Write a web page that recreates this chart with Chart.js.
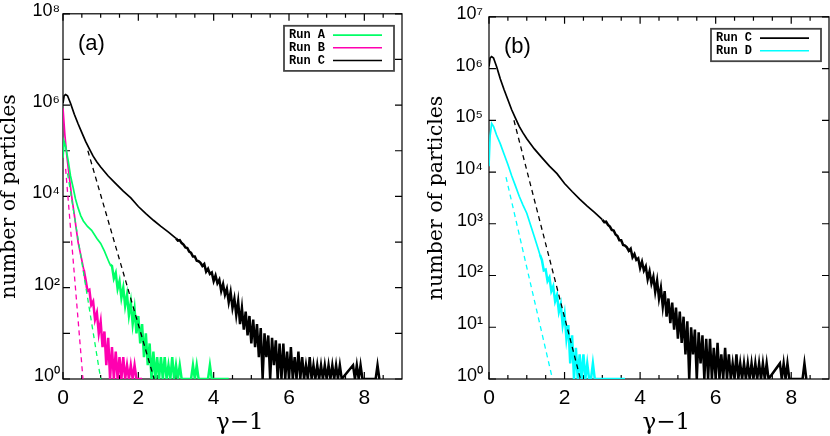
<!DOCTYPE html>
<html>
<head>
<meta charset="utf-8">
<script src="https://cdn.jsdelivr.net/npm/chart.js@4.4.1/dist/chart.umd.min.js"></script>
<style>
  body { margin: 0; background: #fff; width: 830px; height: 436px; position: relative; overflow: hidden; }
  canvas { position: absolute; top: 0; }
  #chartA { left: 0; }
  #chartB { left: 420px; }
</style>
</head>
<body>
<canvas id="chartA" width="420" height="436"></canvas>
<canvas id="chartB" width="410" height="436"></canvas>
<script>
// [gamma-1, number of particles]; empty bins sit on the bottom axis and are written as 1
const runA = [
  [0.00, 7.0e4], [0.03, 1.6e5], [0.07, 1.25e5], [0.14, 5.9e4], [0.20, 2.8e4], [0.27, 1.55e4],
  [0.33, 8.9e3], [0.40, 5.6e3], [0.47, 3.8e3], [0.54, 2.9e3], [0.65, 2.2e3], [0.76, 1.8e3],
  [0.90, 1.2e3], [1.00, 930], [1.10, 630], [1.20, 400], [1.25, 320]
];
const runATail = [
  [1.30, 300], [1.35, 160], [1.40, 210], [1.45, 95], [1.50, 140], [1.55, 60], [1.60, 100],
  [1.65, 40], [1.70, 70], [1.75, 25], [1.80, 48], [1.85, 16], [1.90, 34], [1.95, 10],
  [2.00, 24], [2.05, 6], [2.10, 16], [2.15, 3], [2.20, 10], [2.25, 2], [2.30, 6], [2.35, 1],
  [2.40, 4], [2.45, 1], [2.50, 3], [2.55, 1], [2.60, 3], [2.65, 1], [2.70, 3], [2.75, 1],
  [2.80, 2], [2.85, 1], [2.90, 3], [2.95, 1], [3.00, 2], [3.05, 1], [3.10, 2], [3.15, 1],
  [3.20, 1], [3.25, 1], [3.30, 1], [3.40, 1], [3.45, 2], [3.50, 1], [3.55, 2], [3.60, 1],
  [3.70, 1], [3.85, 1], [3.90, 2], [3.95, 1], [4.40, 1]
];

const runB = [
  [0.00, 8.5e5], [0.05, 2.2e5], [0.10, 8.0e4], [0.15, 3.5e4], [0.23, 1.0e4], [0.30, 4.0e3],
  [0.40, 1.0e3], [0.50, 400], [0.55, 250]
];
const runBTail = [
  [0.60, 150], [0.65, 85], [0.70, 90], [0.75, 42], [0.80, 50], [0.85, 20], [0.90, 28],
  [0.95, 10], [1.00, 18], [1.05, 5], [1.10, 11], [1.15, 2], [1.20, 8], [1.25, 1], [1.30, 5],
  [1.35, 1], [1.40, 4], [1.45, 1], [1.50, 3], [1.55, 1], [1.60, 3], [1.65, 1], [1.70, 2],
  [1.75, 1], [1.80, 2], [1.85, 1], [1.90, 2], [1.95, 1], [2.00, 1], [2.10, 1]
];

const runC = [
  [0.00, 1.1e6], [0.03, 1.6e6], [0.07, 1.7e6], [0.12, 1.6e6], [0.20, 1.1e6], [0.30, 6.3e5],
  [0.40, 3.9e5], [0.50, 2.5e5], [0.60, 1.6e5], [0.70, 1.1e5], [0.80, 7.6e4], [0.90, 5.7e4],
  [1.00, 4.4e4], [1.20, 2.8e4], [1.40, 1.9e4], [1.60, 1.3e4], [1.80, 9.3e3], [2.00, 6.0e3],
  [2.20, 4.2e3], [2.40, 3.0e3], [2.60, 2.2e3], [2.80, 1.65e3], [3.00, 1.2e3]
];
const runCTail = [
  [3.05, 1080], [3.10, 1100], [3.15, 950], [3.20, 880], [3.25, 760], [3.30, 740], [3.35, 620],
  [3.40, 580], [3.45, 480], [3.50, 480], [3.55, 390], [3.60, 380],
  [3.65, 350], [3.70, 300], [3.75, 330], [3.80, 225], [3.85, 260], [3.90, 200], [3.95, 215],
  [4.00, 140], [4.05, 185], [4.10, 125], [4.15, 150], [4.20, 85], [4.25, 120], [4.30, 70],
  [4.35, 95], [4.40, 48], [4.45, 80], [4.50, 36], [4.55, 58], [4.60, 25], [4.65, 50],
  [4.70, 16], [4.75, 36], [4.80, 12], [4.85, 30], [4.90, 9], [4.95, 24], [5.00, 6],
  [5.05, 20], [5.10, 5], [5.15, 16], [5.20, 3], [5.25, 13], [5.30, 1], [5.35, 10], [5.40, 3],
  [5.45, 9], [5.50, 1], [5.55, 8], [5.60, 2], [5.65, 7], [5.70, 1], [5.75, 6], [5.80, 1],
  [5.85, 6], [5.90, 1], [5.95, 4], [6.00, 1], [6.05, 5], [6.10, 1], [6.15, 3], [6.20, 1],
  [6.25, 4], [6.30, 1], [6.35, 3], [6.40, 1], [6.45, 2], [6.50, 1], [6.55, 3], [6.60, 1],
  [6.65, 2], [6.70, 1], [6.75, 2], [6.80, 1], [6.85, 2], [6.90, 1], [6.95, 2], [7.00, 1],
  [7.05, 2], [7.10, 1], [7.15, 2], [7.20, 1], [7.25, 2], [7.30, 1], [7.35, 2], [7.40, 1],
  [7.70, 2], [7.75, 1], [7.80, 2], [7.85, 1], [7.90, 2], [7.95, 1], [8.30, 1], [8.35, 2],
  [8.40, 1]
];

const runD = [
  [0.00, 1.3e4], [0.03, 5.0e4], [0.07, 8.7e4], [0.12, 7.6e4], [0.20, 5.2e4], [0.30, 3.5e4],
  [0.40, 2.2e4], [0.50, 1.4e4], [0.60, 8.5e3], [0.70, 5.4e3], [0.80, 3.4e3], [0.90, 2.3e3],
  [1.00, 1.6e3], [1.10, 950], [1.20, 560], [1.30, 330], [1.35, 250]
];
const runDTail = [
  [1.40, 200], [1.45, 125], [1.50, 130], [1.55, 78], [1.60, 92], [1.65, 50], [1.70, 62],
  [1.75, 32], [1.80, 42], [1.85, 20], [1.90, 28], [1.95, 11], [2.00, 18], [2.05, 6],
  [2.10, 11], [2.15, 2], [2.20, 7], [2.25, 1], [2.30, 4], [2.35, 1], [2.40, 3], [2.45, 1],
  [2.50, 3], [2.55, 1], [2.60, 2], [2.65, 1], [2.70, 1], [2.75, 2], [2.80, 1], [3.60, 1]
];

// exponential fits (dashed)
const fitA = [[0.12, 3.2e4], [1.00, 1]];
const fitB = [[0.07, 4.0e4], [0.53, 1]];
const fitC = [[0.66, 1.0e5], [2.42, 1]];
const fitD = [[0.45, 8.0e3], [1.68, 1]];

const xMajorTicks = [0, 2, 4, 6, 8];
const xMinorTicks = [0.5, 1, 1.5, 2.5, 3, 3.5, 4.5, 5, 5.5, 6.5, 7, 7.5, 8.5];
const yTicksA = [1, 1e1, 1e2, 1e3, 1e4, 1e5, 1e6, 1e7, 1e8];
const yLabelsA = ["10⁰", "", "10²", "", "10⁴", "", "10⁶", "", "10⁸"];
const yTicksB = [1, 1e1, 1e2, 1e3, 1e4, 1e5, 1e6, 1e7];
const yLabelsB = ["10⁰", "10¹", "10²", "10³", "10⁴", "10⁵", "10⁶", "10⁷"];

const colors = { A: "#00ff66", B: "#ff00b0", C: "#000000", D: "#00ffff" };

Chart.defaults.color = "#000";
Chart.defaults.font.family = "Liberation Sans";

const toPoints = (arr) => arr.map(([x, y]) => ({ x, y }));

// smooth part as a thin line, noisy tail a little heavier so the spikes close up
function runLines(label, smooth, tail, color) {
  return [
    { label, inLegend: true, data: toPoints(smooth), borderColor: color, borderWidth: 1.7, pointRadius: 0 },
    { label, data: toPoints([smooth[smooth.length - 1], ...tail]), borderColor: color, borderWidth: 2.5, pointRadius: 0 },
  ];
}

function fitLine(arr, color) {
  return { label: "fit", data: toPoints(arr), borderColor: color, borderWidth: 1.3, borderDash: [5, 4], pointRadius: 0, order: -1 };
}

// box around the plot with inward ticks on all four sides
const frameTicks = {
  id: "frameTicks",
  beforeDatasetsDraw(chart) {
    const { ctx, chartArea: a, scales: { x, y } } = chart;
    ctx.save();
    ctx.strokeStyle = "#000";
    ctx.lineWidth = 1.2;
    ctx.strokeRect(a.left, a.top, a.right - a.left, a.bottom - a.top);
    ctx.beginPath();
    const xTick = (v, len) => {
      const px = x.getPixelForValue(v);
      ctx.moveTo(px, a.bottom); ctx.lineTo(px, a.bottom - len);
      ctx.moveTo(px, a.top); ctx.lineTo(px, a.top + len);
    };
    x.ticks.forEach((t) => xTick(t.value, 7));
    xMinorTicks.forEach((v) => xTick(v, 4));
    y.ticks.forEach((t) => {
      const py = y.getPixelForValue(t.value);
      ctx.moveTo(a.left, py); ctx.lineTo(a.left + 7, py);
      ctx.moveTo(a.right, py); ctx.lineTo(a.right - 7, py);
    });
    ctx.stroke();
    ctx.restore();
  },
};

// legend box in the upper right, panel tag in the upper left
const runLegend = {
  id: "runLegend",
  afterDatasetsDraw(chart, args, opts) {
    const { ctx, chartArea: a } = chart;
    const items = chart.data.datasets.filter((d) => d.inLegend);
    const rowH = 12.7;
    const boxW = 110;
    const boxH = items.length * rowH + 7;
    const bx = a.right - 8 - boxW;
    const by = a.top + 12;
    ctx.save();
    ctx.strokeStyle = "#444";
    ctx.lineWidth = 1.8;
    ctx.strokeRect(bx, by, boxW, boxH);
    ctx.font = 'bold 12px "Liberation Mono"';
    ctx.textBaseline = "middle";
    items.forEach((d, i) => {
      const cy = by + 9.3 + i * rowH;
      ctx.fillStyle = "#000";
      ctx.fillText(d.label, bx + 5, cy);
      ctx.strokeStyle = d.borderColor;
      ctx.lineWidth = 1.6;
      ctx.beginPath();
      ctx.moveTo(bx + 49, cy);
      ctx.lineTo(bx + 98, cy);
      ctx.stroke();
    });
    ctx.font = '22px "Liberation Sans"';
    ctx.fillStyle = "#000";
    ctx.fillText(opts.tag, a.left + 15, a.top + 30);
    ctx.restore();
  },
};

function makePanel(id, datasets, cfg) {
  return new Chart(document.getElementById(id), {
    type: "line",
    data: { datasets },
    plugins: [frameTicks, runLegend],
    options: {
      responsive: false,
      animation: false,
      layout: { padding: { top: 12, right: cfg.padRight, left: 0, bottom: 0 } },
      plugins: {
        legend: { display: false },
        tooltip: { enabled: false },
        runLegend: { tag: cfg.tag },
      },
      scales: {
        x: {
          type: "linear",
          min: 0,
          max: 9,
          afterBuildTicks: (s) => { s.ticks = xMajorTicks.map((v) => ({ value: v })); },
          afterFit: (s) => { s.height = 57; },
          grid: { display: false, drawTicks: false },
          border: { display: false },
          ticks: { font: { size: 21 }, padding: 7, maxRotation: 0, autoSkip: false, callback: (v) => String(v) },
          title: {
            display: true,
            text: "  γ−1",
            font: { family: "DejaVu Serif", size: 23, lineHeight: 1 },
            padding: { top: 0, bottom: 1 },
          },
        },
        y: {
          type: "logarithmic",
          min: 1,
          max: cfg.yTicks[cfg.yTicks.length - 1],
          afterBuildTicks: (s) => { s.ticks = cfg.yTicks.map((v) => ({ value: v })); },
          afterFit: (s) => { s.width = cfg.axisWidth; },
          grid: { display: false, drawTicks: false },
          border: { display: false },
          ticks: {
            font: { size: 18 },
            padding: cfg.labelPad,
            labelOffset: -3,
            autoSkip: false,
            callback: (v, i) => cfg.yLabels[i],
          },
          title: {
            display: true,
            text: "number of particles",
            font: { family: "DejaVu Serif", size: 20.5, lineHeight: 1 },
            padding: { top: cfg.titlePad, bottom: 0 },
          },
        },
      },
    },
  });
}

makePanel("chartA", [
  ...runLines("Run A", runA, runATail, colors.A),
  ...runLines("Run B", runB, runBTail, colors.B),
  ...runLines("Run C", runC, runCTail, colors.C),
  fitLine(fitA, colors.A),
  fitLine(fitB, colors.B),
  fitLine(fitC, colors.C),
], { tag: "(a)", yTicks: yTicksA, yLabels: yLabelsA, axisWidth: 63, labelPad: 3, titlePad: -1, padRight: 18 });

makePanel("chartB", [
  ...runLines("Run C", runC, runCTail, colors.C),
  ...runLines("Run D", runD, runDTail, colors.D),
  fitLine(fitC, colors.C),
  fitLine(fitD, colors.D),
], { tag: "(b)", yTicks: yTicksB, yLabels: yLabelsB, axisWidth: 69, labelPad: 6, titlePad: 6, padRight: 1 });
</script>
</body>
</html>
